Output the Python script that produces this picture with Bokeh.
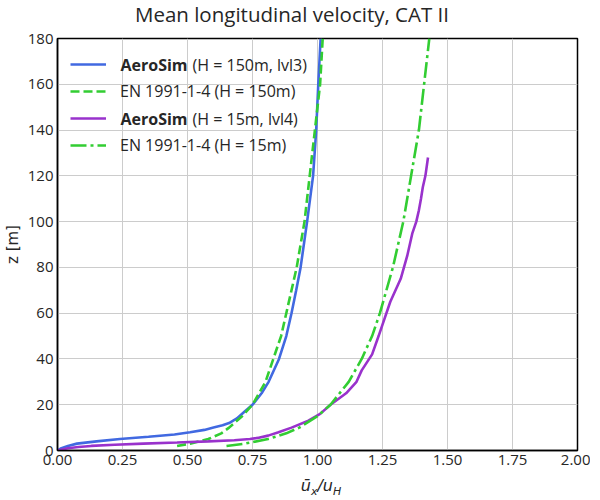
from bokeh.plotting import figure
from bokeh.models import (Range1d, FixedTicker, NumeralTickFormatter, Legend,
                          LegendItem, Label, Div)
from bokeh.layouts import column
from bokeh.embed import file_html
from bokeh.resources import INLINE

# ---------------- data ----------------
z_aero150 = [0, 1, 2, 3, 4, 5, 6, 7, 8, 9, 10, 11, 12, 14, 17, 20, 25, 30,
             40, 50, 60, 70, 80, 100, 120, 140, 160, 180]
u_aero150 = [0.0, 0.015, 0.04, 0.075, 0.15, 0.24, 0.35, 0.45, 0.51, 0.565,
             0.60, 0.635, 0.66, 0.69, 0.72, 0.75, 0.785, 0.812, 0.852, 0.88,
             0.90, 0.918, 0.935, 0.96, 0.983, 0.995, 1.003, 1.012]

z_en = [2, 3, 5, 7.5, 10, 15, 20, 30, 40, 50, 60, 80, 100, 120, 140, 160, 180]
u_en150 = [0.46, 0.51, 0.58, 0.63, 0.66, 0.71, 0.75, 0.80, 0.83, 0.86, 0.88,
           0.92, 0.95, 0.97, 0.99, 1.01, 1.02]
u_en15 = [0.65, 0.72, 0.81, 0.88, 0.93, 1.00, 1.05, 1.12, 1.17, 1.21, 1.24,
          1.29, 1.33, 1.36, 1.39, 1.41, 1.43]

z_aero15 = [0, 1, 1.5, 2, 2.5, 3, 3.5, 4, 4.5, 5, 5.5, 6.5, 8, 10, 13, 16,
            20, 25, 30, 35, 42, 50, 55, 65, 75, 85, 95, 100, 105, 110, 115,
            120, 128]
u_aero15 = [0.0, 0.04, 0.08, 0.13, 0.22, 0.33, 0.46, 0.58, 0.68, 0.74, 0.77,
            0.81, 0.85, 0.90, 0.965, 1.01, 1.05, 1.11, 1.15, 1.17, 1.21,
            1.235, 1.25, 1.28, 1.32, 1.345, 1.365, 1.38, 1.39, 1.398, 1.405,
            1.415, 1.425]

x_ticks = [0.0, 0.25, 0.5, 0.75, 1.0, 1.25, 1.5, 1.75, 2.0]
y_ticks = [0, 20, 40, 60, 80, 100, 120, 140, 160, 180]

title_text = "Mean longitudinal velocity, CAT II"
legend_bold = ["AeroSim", None, "AeroSim", None]
legend_rest = ["(H = 150m, lvl3)", "EN 1991-1-4 (H = 150m)",
               "(H = 15m, lvl4)", "EN 1991-1-4 (H = 15m)"]
y_label = "z [m]"

BLUE = "#4169e1"
GREEN = "#32cd32"
PURPLE = "#9932cc"
FONT = "Open Sans"
TXT = "#262626"

FW, FH = 520, 412
BL, BR, BT, BB = 51, 13, 10, 26

# ---------------- title (real HTML text above the plot) ----------------
title_div = Div(
    text=title_text,
    width=584, height=28, margin=0,
    styles={"font-family": FONT, "font-size": "20.5px", "line-height": "28px",
            "text-align": "center", "color": TXT})

p = figure(frame_width=FW, frame_height=FH, output_backend="svg",
           toolbar_location=None,
           x_range=Range1d(0, 2), y_range=Range1d(0, 180),
           min_border_left=BL, min_border_right=BR, min_border_top=BT,
           min_border_bottom=BB, margin=0)
p.title.visible = False

p.outline_line_color = "black"
p.outline_line_width = 1.5
p.background_fill_color = "white"
p.border_fill_color = "white"

for ax in (p.xaxis[0], p.yaxis[0]):
    ax.major_tick_in = 0
    ax.major_tick_out = 0
    ax.minor_tick_in = 0
    ax.minor_tick_out = 0
    ax.axis_line_color = "black"
    ax.axis_line_width = 1.5
    ax.major_label_text_font = FONT
    ax.major_label_text_font_size = "15px"
    ax.major_label_text_color = TXT
    ax.major_label_standoff = 4

p.xaxis.ticker = FixedTicker(ticks=x_ticks)
p.xaxis.formatter = NumeralTickFormatter(format="0.00")
p.yaxis.ticker = FixedTicker(ticks=y_ticks)
p.yaxis.axis_label = y_label
p.yaxis.axis_label_text_font = "DejaVu Sans"
p.yaxis.axis_label_text_font_size = "15px"
p.yaxis.axis_label_text_font_style = "normal"
p.yaxis.axis_label_text_color = TXT
p.yaxis.axis_label_standoff = 3

p.grid.grid_line_color = "#cccccc"
p.grid.grid_line_width = 1
p.xgrid.ticker = FixedTicker(ticks=x_ticks)
p.ygrid.ticker = FixedTicker(ticks=y_ticks)

r1 = p.line(u_aero150, z_aero150, line_color=BLUE, line_width=2.6)
r2 = p.line(u_en150, z_en, line_color=GREEN, line_width=2.6, line_dash="9 4")
r3 = p.line(u_aero15, z_aero15, line_color=PURPLE, line_width=2.6)
r4 = p.line(u_en15, z_en, line_color=GREEN, line_width=2.6,
            line_dash="16 4 3 4")

renderers = [r1, r2, r3, r4]
items = []
for bold, rest, r in zip(legend_bold, legend_rest, renderers):
    items.append(LegendItem(label=(rest if bold is None else " "), renderers=[r]))

ROW_H = 26
legend = Legend(items=items, location="top_left", margin=0, padding=13,
                glyph_width=36, glyph_height=ROW_H, label_height=ROW_H,
                spacing=1, label_standoff=14, label_text_font=FONT,
                label_text_font_size="16px", label_text_color=TXT,
                background_fill_alpha=0, border_line_alpha=0)
p.add_layout(legend)

# bold/normal mixed legend texts (screen units relative to the frame)
row_pitch = ROW_H + 1
first_row = FH - 13 - ROW_H / 2
for i, (bold, rest) in enumerate(zip(legend_bold, legend_rest)):
    if bold is None:
        continue
    yy = first_row - i * row_pitch
    p.add_layout(Label(x=63, y=yy, x_units="screen", y_units="screen",
                       text=bold, text_font=FONT, text_font_size="16px",
                       text_font_style="bold", text_color=TXT,
                       text_baseline="middle"))
    p.add_layout(Label(x=135, y=yy, x_units="screen", y_units="screen",
                       text=rest, text_font=FONT, text_font_size="16px",
                       text_color=TXT, text_baseline="middle"))

# x-axis label: overline-u_x / u_H, as real HTML text below the plot
sub = "font-size:11px;position:relative;top:4px;"
xlabel = Div(
    text=("<i>ū<span style='%s'>x</span>/u<span style='%s'>H</span></i>"
          % (sub, sub)),
    width=FW - 6, height=16, margin=(0, 0, 0, BL + 13),
    styles={"font-family": "DejaVu Sans", "font-size": "16px",
            "line-height": "20px", "text-align": "center", "color": TXT})

layout = column(title_div, p, xlabel, spacing=0)

open("out.html", "w").write(file_html(layout, INLINE))
